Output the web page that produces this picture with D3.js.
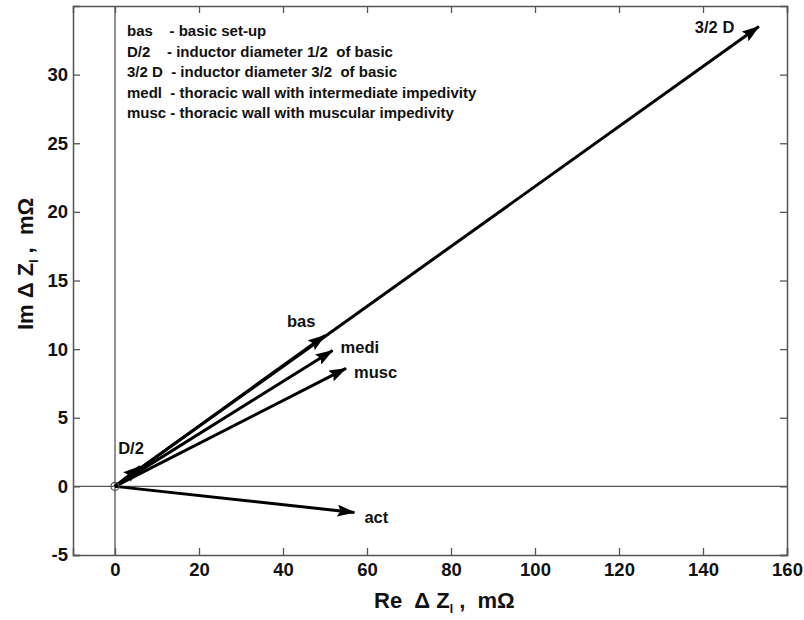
<!DOCTYPE html>
<html>
<head>
<meta charset="utf-8">
<script src="https://cdn.jsdelivr.net/npm/d3@7"></script>
<style>
  body { margin: 0; background: #fff; }
  text { font-family: "Liberation Sans", Arial, sans-serif; font-weight: bold; fill: #111; }
</style>
</head>
<body>
<div id="chart"></div>
<script>
// arrow end points (all start at origin), in mΩ
const names = ["3/2 D", "bas", "medi", "musc", "D/2", "act"];
const reVals = [153.3, 50.0, 51.8, 55.0, 6.0, 57.0];
const imVals = [33.5, 11.0, 9.9, 8.6, 1.45, -1.9];

const xTicks = [0, 20, 40, 60, 80, 100, 120, 140, 160];
const yTicks = [-5, 0, 5, 10, 15, 20, 25, 30];

const legendLines = [
  "bas    - basic set-up",
  "D/2    - inductor diameter 1/2  of basic",
  "3/2 D  - inductor diameter 3/2  of basic",
  "medl  - thoracic wall with intermediate impedivity",
  "musc - thoracic wall with muscular impedivity"
];

// label offsets from arrow tip (px)
const labelOffset = {
  "3/2 D": [-64, 6],
  "bas": [-38, -8],
  "medi": [8, 3],
  "musc": [8, 10],
  "D/2": [-22, -12],
  "act": [10, 11]
};

function init() {
  const W = 804, H = 620;
  const margin = { top: 6, right: 17, bottom: 65, left: 73 };
  const width = W - margin.left - margin.right;
  const height = H - margin.top - margin.bottom;

  const x = d3.scaleLinear().domain([-10, 160]).range([0, width]);
  const y = d3.scaleLinear().domain([-5, 35]).range([height, 0]);

  const svg = d3.select("#chart").append("svg")
      .attr("width", W)
      .attr("height", H);

  svg.append("defs").append("marker")
      .attr("id", "head")
      .attr("markerUnits", "userSpaceOnUse")
      .attr("viewBox", "0 0 18 12")
      .attr("refX", 17)
      .attr("refY", 6)
      .attr("markerWidth", 18)
      .attr("markerHeight", 12)
      .attr("orient", "auto")
    .append("path")
      .attr("d", "M0,0 L18,6 L0,12 L3,6 Z")
      .attr("fill", "#000");

  const chart = svg.append("g")
      .attr("transform", "translate(" + margin.left + "," + margin.top + ")");

  // zero lines
  chart.append("line")
      .attr("x1", x(0)).attr("x2", x(0))
      .attr("y1", 0).attr("y2", height)
      .attr("stroke", "#555").attr("stroke-width", 1.3);
  chart.append("line")
      .attr("x1", 0).attr("x2", width)
      .attr("y1", y(0)).attr("y2", y(0))
      .attr("stroke", "#555").attr("stroke-width", 1.3);

  // axes with inward ticks
  const fmt = d => String(d);
  chart.append("g")
      .attr("transform", "translate(0," + height + ")")
      .call(d3.axisBottom(x).tickValues(xTicks).tickSize(-7).tickPadding(8).tickFormat(fmt));
  chart.append("g")
      .call(d3.axisLeft(y).tickValues(yTicks).tickSize(-7).tickPadding(5).tickFormat(fmt));
  chart.append("g")
      .call(d3.axisTop(x).tickValues(xTicks).tickSize(-7).tickFormat(""));
  chart.append("g")
      .attr("transform", "translate(" + width + ",0)")
      .call(d3.axisRight(y).tickValues(yTicks).tickSize(-7).tickFormat(""));

  chart.selectAll(".domain").attr("stroke", "#555").attr("stroke-width", 1.5);
  chart.selectAll(".tick line").attr("stroke", "#555").attr("stroke-width", 1.3);
  chart.selectAll(".tick text")
      .style("font-family", "'Liberation Sans', Arial, sans-serif")
      .style("font-weight", "bold")
      .style("font-size", "18.5px")
      .attr("fill", "#111");

  // legend
  chart.append("g").selectAll("text")
      .data(legendLines)
      .enter().append("text")
      .attr("x", x(0) + 12)
      .attr("y", (d, i) => 30 + i * 20.5)
      .attr("xml:space", "preserve")
      .style("white-space", "pre")
      .style("font-size", "15px")
      .text(d => d);

  // arrows
  const data = names.map((n, i) => ({ name: n, re: reVals[i], im: imVals[i] }));

  chart.append("g").selectAll("line")
      .data(data)
      .enter().append("line")
      .attr("x1", x(0)).attr("y1", y(0))
      .attr("x2", d => x(d.re)).attr("y2", d => y(d.im))
      .attr("stroke", "#000")
      .attr("stroke-width", 3)
      .attr("marker-end", "url(#head)");

  chart.append("g").selectAll("text")
      .data(data)
      .enter().append("text")
      .attr("x", d => x(d.re) + labelOffset[d.name][0])
      .attr("y", d => y(d.im) + labelOffset[d.name][1])
      .style("font-size", "16.5px")
      .text(d => d.name);

  // origin marker
  chart.append("circle")
      .attr("cx", x(0)).attr("cy", y(0)).attr("r", 4)
      .attr("fill", "none")
      .attr("stroke", "#555")
      .attr("stroke-width", 1.2);

  // axis titles
  const xt = svg.append("text")
      .attr("x", 374)
      .attr("y", 608)
      .attr("xml:space", "preserve")
      .style("white-space", "pre")
      .style("font-size", "22px");
  xt.append("tspan").text("Re  \u0394 Z");
  xt.append("tspan").attr("dy", 5).style("font-size", "12px").text("I");
  xt.append("tspan").attr("dy", -5).text(" ,  m\u03A9");

  const yt = svg.append("text")
      .attr("transform", "translate(33,330) rotate(-90)")
      .attr("xml:space", "preserve")
      .style("white-space", "pre")
      .style("font-size", "22px");
  yt.append("tspan").text("Im \u0394 Z");
  yt.append("tspan").attr("dy", 5).style("font-size", "12px").text("I");
  yt.append("tspan").attr("dy", -5).text(" ,  m\u03A9");
}

window.onload = init;
</script>
</body>
</html>
